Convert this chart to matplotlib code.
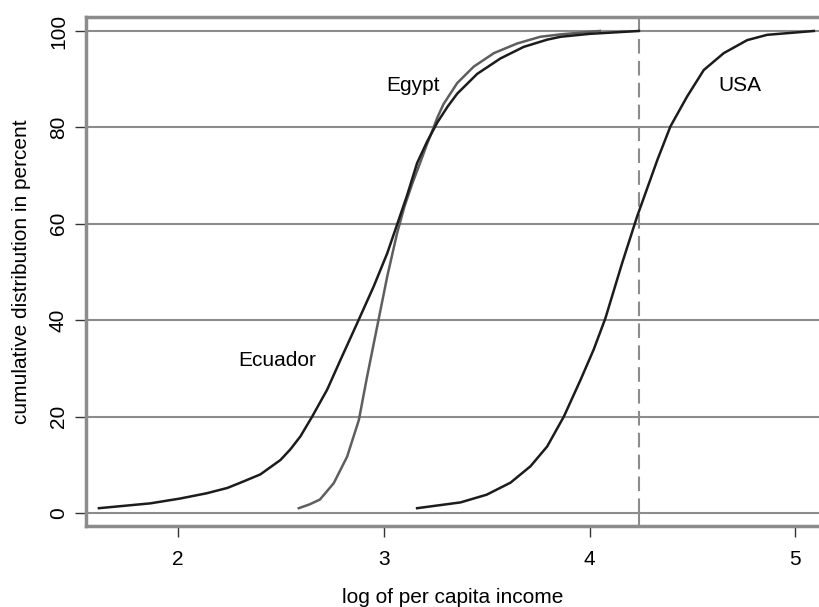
import matplotlib.pyplot as plt

plt.rcParams['font.family'] = ['Liberation Sans', 'DejaVu Sans']

# cumulative distributions (x = log income, y = percent)
ecuador_x = [1.616, 1.865, 2.01, 2.14, 2.24, 2.304, 2.40, 2.498, 2.546, 2.595, 2.652,
             2.725, 2.79, 2.871, 2.951, 3.017, 3.07, 3.114, 3.162, 3.21, 3.26, 3.31,
             3.357, 3.454, 3.567, 3.68, 3.794, 3.86, 4.0, 4.24]
ecuador_y = [1.0, 2.0, 3.0, 4.1, 5.2, 6.3, 8.0, 11.0, 13.2, 15.9, 20.0,
             25.6, 31.8, 39.4, 47.0, 53.9, 60.5, 66.0, 72.6, 77.0, 81.0, 84.3,
             87.0, 91.1, 94.3, 96.7, 98.2, 98.8, 99.4, 100.0]

egypt_x = [2.587, 2.64, 2.69, 2.757, 2.822, 2.879, 2.919, 2.968, 3.017, 3.065, 3.10,
           3.14, 3.178, 3.21, 3.235, 3.26, 3.29, 3.357, 3.437, 3.535, 3.648, 3.761,
           3.86, 4.05]
egypt_y = [1.0, 1.8, 2.8, 6.2, 11.7, 19.3, 28.3, 38.7, 49.1, 58.1, 63.5,
           68.5, 72.8, 76.5, 79.2, 82.0, 84.8, 89.2, 92.6, 95.4, 97.4, 98.8,
           99.3, 100.0]

usa_x = [3.162, 3.373, 3.50, 3.616, 3.713, 3.794, 3.875, 3.956, 4.02, 4.077, 4.158,
         4.231, 4.33, 4.393, 4.474, 4.555, 4.652, 4.766, 4.863, 5.09]
usa_y = [1.0, 2.2, 3.8, 6.3, 9.7, 13.8, 20.0, 27.6, 33.9, 40.4, 51.8,
         61.5, 73.3, 80.2, 86.4, 91.9, 95.4, 98.1, 99.2, 100.0]

cutoff = 4.24
y_ticks = [0, 20, 40, 60, 80, 100]
x_ticks = [2, 3, 4, 5]

fig = plt.figure(figsize=(8.19, 6.07), dpi=100)
ax = fig.add_axes([0.105, 0.1334, 0.895, 0.8386])

grey = '#8c8c8c'
for v in y_ticks:
    ax.axhline(v, color=grey, lw=1.5, zorder=1)

# vertical marker: dashed inside the 0-100 band, solid outside it
ax.plot([cutoff, cutoff], [0, 100], color=grey, lw=1.5, ls=(0, (7, 3.5)), zorder=1)
ax.plot([cutoff, cutoff], [-5, 0], color=grey, lw=1.5, zorder=1)
ax.plot([cutoff, cutoff], [100, 105], color=grey, lw=1.5, zorder=1)

ax.plot(ecuador_x, ecuador_y, color='#1c1c1c', lw=1.8, zorder=3)
ax.plot(egypt_x, egypt_y, color='#5e5e5e', lw=1.8, zorder=2)
ax.plot(usa_x, usa_y, color='#1c1c1c', lw=1.8, zorder=3)

ax.text(3.14, 88.7, 'Egypt', fontsize=15, ha='center', va='center')
ax.text(4.73, 88.7, 'USA', fontsize=15, ha='center', va='center')
ax.text(2.48, 31.6, 'Ecuador', fontsize=15, ha='center', va='center')

ax.set_xlim(1.553, 5.115)
ax.set_ylim(-2.7, 102.9)
ax.set_xticks(x_ticks)
ax.set_yticks(y_ticks)
ax.tick_params(axis='both', direction='out', length=8, width=1, color='#333333',
               labelsize=15)
ax.tick_params(axis='x', pad=9)
ax.tick_params(axis='y', pad=5)
for lab in ax.get_yticklabels():
    lab.set_rotation(90)
    lab.set_va('center')

for side in ['left', 'top', 'bottom']:
    ax.spines[side].set_color(grey)
    ax.spines[side].set_linewidth(2.5)
ax.spines['right'].set_visible(False)

ax.set_xlabel('log of per capita income', fontsize=15, labelpad=14)
ax.set_ylabel('cumulative distribution in percent', fontsize=15, labelpad=13)

fig.savefig('out.png', dpi=100)
